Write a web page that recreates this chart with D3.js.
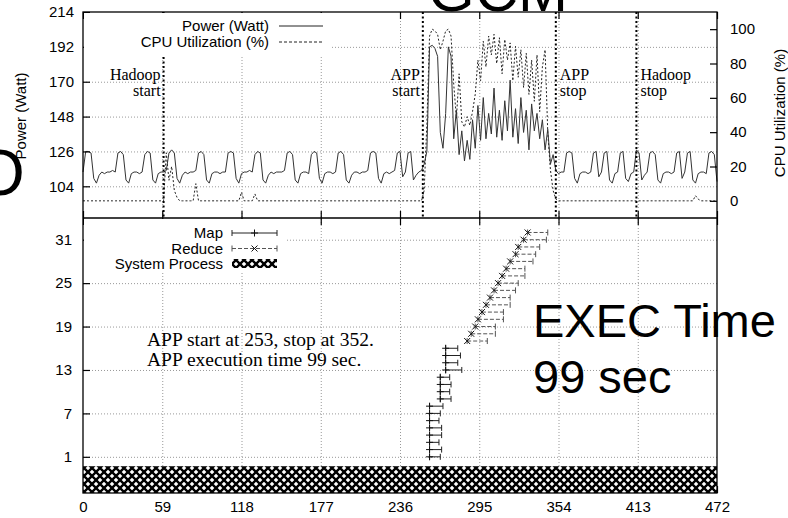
<!DOCTYPE html>
<html>
<head>
<meta charset="utf-8">
<script src="https://cdn.jsdelivr.net/npm/d3@7"></script>
<style>
  body { margin: 0; background: #fff; }
  svg { display: block; }
  .tick text { font-family: "Liberation Sans", Arial, sans-serif; font-size: 15px; fill: #000; }
  .grid line { stroke: #999; stroke-width: 1; stroke-dasharray: 1,2; }
</style>
</head>
<body>
<div id="chart"></div>
<script>
// samples every 2 seconds, t = 0 .. 472
const sampleStep = 2

const powerWatt = [
  113,126,126,125,109,106,111,113,112,113,113,114,113,
  125,126,124,108,106,112,113,113,112,113,
  124,126,125,108,106,112,113,113,114,
  125,127,125,109,106,111,113,112,113,113,114,
  125,126,124,108,106,112,113,113,112,113,113,
  125,126,125,109,106,112,113,113,114,113,
  124,126,125,108,106,111,113,112,113,113,113,114,
  125,126,124,108,106,112,113,113,112,
  124,126,125,109,106,112,113,113,112,113,
  125,126,124,108,106,111,113,113,112,113,113,114,
  125,126,125,109,106,112,113,112,113,114,
  125,126,110,113,125,126,108,111,113,114,
  118,126,192,193,191,186,138,128,150,192,
  186,134,152,124,139,120,133,121,146,128,
  155,133,160,134,150,137,166,135,152,133,
  158,139,171,135,153,131,160,138,152,127,
  156,139,150,134,146,127,140,118,124,114,
  112,113,113,125,126,125,109,106,112,113,113,112,113,
  125,126,110,113,125,126,108,106,112,113,
  125,126,109,107,112,113,127,125,108,111,
  113,125,126,124,108,106,112,113,113,112,
  113,125,126,109,113,125,126,108,106,112,
  113,113,112,125,126,124,107
]

const cpuPct = [
  0,0,0,0,0,0,0,0,0,0,
  0,0,0,0,0,0,0,0,0,0,
  0,0,0,0,0,0,0,0,0,0,
  0,28,12,20,6,2,0,0,0,0,
  0,0,10,0,0,0,0,0,0,0,
  0,0,0,0,0,0,0,0,0,5,
  0,0,0,0,4,0,0,0,0,0,
  0,0,0,0,0,0,0,0,0,0,
  0,0,0,0,0,0,0,0,0,0,
  0,0,0,0,0,0,0,0,0,0,
  0,0,0,0,0,0,0,0,0,0,
  0,0,0,0,0,0,0,0,0,0,
  0,0,0,0,0,0,0,6,45,96,
  100,99,97,88,93,99,100,96,68,48,
  74,46,43,49,44,52,62,82,70,93,
  78,96,85,97,80,95,74,94,82,92,
  70,90,72,88,66,86,62,82,58,85,
  52,78,88,40,18,6,1,0,0,0,
  0,0,0,0,0,0,0,0,0,0,
  0,0,0,0,0,0,0,0,0,0,
  0,0,0,0,0,0,0,0,0,0,
  0,0,0,0,0,0,0,0,0,0,
  0,0,0,0,0,0,0,0,3,1,
  0,0,0,0,0,0,0
]

const eventTimes = [60, 253, 352, 412]
const eventLabels = [['Hadoop', 'start'], ['APP', 'start'], ['APP', 'stop'], ['Hadoop', 'stop']]

// map tasks are rows 1..16, reduce tasks rows 17..32 (seconds)
const mapStart = [258,258,258,258,258,258,258,258,266,266,266,266,270,270,270,270]
const mapEnd = [266,267,265,267,267,265,266,268,274,273,274,273,282,279,281,279]
const reduceStart = [286,289,292,294,297,300,303,306,309,312,315,318,322,324,328,331]
const reduceEnd = [301,307,307,313,313,318,318,322,324,329,329,335,337,340,345,346]
const systemProcess = [[0, 472]]

const xTicks = [0, 59, 118, 177, 236, 295, 354, 413, 472]
const powerTicks = [104, 126, 148, 170, 192, 214]
const cpuTicks = [0, 20, 40, 60, 80, 100]
const taskTicks = [1, 7, 13, 19, 25, 31]

const width = 788
const height = 518
const sans = '"Liberation Sans", Arial, sans-serif'
const serif = '"Liberation Serif", "Times New Roman", serif'

const svg = d3.select('#chart').append('svg')
  .attr('width', width)
  .attr('height', height)

const x = d3.scaleLinear().domain([0, 472]).range([83, 717])
const yP = d3.scaleLinear().domain([84, 214]).range([218, 12])
const yC = d3.scaleLinear().domain([-10, 110]).range([218, 12])
const yT = d3.scaleLinear().domain([-4, 34]).range([493, 218])

// crosshatch for system process
const defs = svg.append('defs')
const pat = defs.append('pattern')
  .attr('id', 'hatch')
  .attr('patternUnits', 'userSpaceOnUse')
  .attr('width', 8).attr('height', 8)
pat.append('rect').attr('width', 8).attr('height', 8).attr('fill', '#fff')
pat.append('path')
  .attr('d', 'M-1,-1L9,9M9,-1L-1,9')
  .attr('stroke', '#000').attr('stroke-width', 2.4)

// grid
svg.append('g').attr('class', 'grid')
  .attr('transform', 'translate(0,493)')
  .call(d3.axisBottom(x).tickValues(xTicks.slice(1, -1)).tickSize(-481).tickFormat(''))
svg.append('g').attr('class', 'grid')
  .attr('transform', 'translate(83,0)')
  .call(d3.axisLeft(yP).tickValues(powerTicks.slice(0, -1)).tickSize(-634).tickFormat(''))
svg.append('g').attr('class', 'grid')
  .attr('transform', 'translate(83,0)')
  .call(d3.axisLeft(yT).tickValues(taskTicks).tickSize(-634).tickFormat(''))
svg.selectAll('.grid .domain').remove()

// top panel series
const t = i => i * sampleStep
svg.append('path')
  .datum(cpuPct)
  .attr('fill', 'none')
  .attr('stroke', '#222')
  .attr('stroke-width', 1)
  .attr('stroke-dasharray', '2,2')
  .attr('d', d3.line().x((d, i) => x(t(i))).y(d => yC(d)))

svg.append('path')
  .datum(powerWatt)
  .attr('fill', 'none')
  .attr('stroke', '#333')
  .attr('stroke-width', 1)
  .attr('d', d3.line().x((d, i) => x(t(i))).y(d => yP(d)))

// event markers
svg.selectAll('.event')
  .data(eventTimes)
  .enter().append('line')
  .attr('class', 'event')
  .attr('x1', d => x(d)).attr('x2', d => x(d))
  .attr('y1', 12).attr('y2', 218)
  .attr('stroke', '#000')
  .attr('stroke-width', 2)
  .attr('stroke-dasharray', '2,2.5')

eventLabels.forEach((lab, i) => {
  const left = i < 2
  const tx = svg.append('text')
    .attr('x', left ? x(eventTimes[i]) - 3 : x(eventTimes[i]) + 4)
    .attr('y', 80)
    .attr('text-anchor', left ? 'end' : 'start')
    .style('font-family', serif)
    .style('font-size', '16px')
  tx.append('tspan').text(lab[0])
  tx.append('tspan').attr('x', left ? x(eventTimes[i]) - 3 : x(eventTimes[i]) + 4).attr('dy', 15.5).text(lab[1])
})

// bottom panel tasks
function errBar (g, s, e, row, dashed, marker) {
  const yy = yT(row)
  g.append('line')
    .attr('x1', x(s)).attr('x2', x(e)).attr('y1', yy).attr('y2', yy)
    .attr('stroke', dashed ? '#555' : '#222')
    .attr('stroke-dasharray', dashed ? '4,2' : null)
  ;[s, e].forEach(v => {
    g.append('line')
      .attr('x1', x(v)).attr('x2', x(v)).attr('y1', yy - 3).attr('y2', yy + 3)
      .attr('stroke', dashed ? '#555' : '#222')
  })
  const cx = x(s)
  const p = marker === 'plus'
    ? `M${cx - 3.5},${yy}h7M${cx},${yy - 3.5}v7`
    : `M${cx - 3},${yy - 3}l6,6M${cx - 3},${yy + 3}l6,-6`
  g.append('path').attr('d', p).attr('stroke', '#111').attr('stroke-width', 1)
}

const tasks = svg.append('g')
mapStart.forEach((s, i) => errBar(tasks, s, mapEnd[i], i + 1, false, 'plus'))
reduceStart.forEach((s, i) => errBar(tasks, s, reduceEnd[i], i + 1 + mapStart.length, true, 'cross'))

// axes with inward ticks
function clean (g) {
  g.select('.domain').remove()
  g.selectAll('.tick line').attr('stroke', '#000').attr('stroke-width', 1.2)
}
svg.append('g').attr('transform', 'translate(83,0)')
  .call(d3.axisLeft(yP).tickValues(powerTicks).tickSizeInner(-7).tickSizeOuter(0).tickPadding(9))
  .call(clean)
svg.append('g').attr('transform', 'translate(717,0)')
  .call(d3.axisRight(yC).tickValues(cpuTicks).tickSizeInner(-7).tickSizeOuter(0).tickPadding(13))
  .call(clean)
svg.append('g').attr('transform', 'translate(83,0)')
  .call(d3.axisLeft(yT).tickValues(taskTicks).tickSizeInner(-7).tickSizeOuter(0).tickPadding(11))
  .call(clean)
svg.append('g').attr('transform', 'translate(0,12)')
  .call(d3.axisTop(x).tickValues(xTicks).tickSizeInner(-7).tickSizeOuter(0).tickFormat(''))
  .call(clean)
svg.append('g').attr('transform', 'translate(0,218)')
  .call(d3.axisBottom(x).tickValues(xTicks).tickSizeInner(-7).tickSizeOuter(0).tickFormat(''))
  .call(clean)
svg.append('g').attr('transform', 'translate(0,218)')
  .call(d3.axisTop(x).tickValues(xTicks).tickSizeInner(-7).tickSizeOuter(0).tickFormat(''))
  .call(clean)
svg.append('g').attr('transform', 'translate(0,493)')
  .call(d3.axisBottom(x).tickValues(xTicks).tickSizeInner(-7).tickSizeOuter(0).tickPadding(8))
  .call(clean)

// system process band
svg.selectAll('.sys')
  .data(systemProcess)
  .enter().append('rect')
  .attr('class', 'sys')
  .attr('x', d => x(d[0]))
  .attr('width', d => x(d[1]) - x(d[0]))
  .attr('y', yT(-0.3))
  .attr('height', yT(-4) - yT(-0.3))
  .attr('fill', 'url(#hatch)')

// legends
svg.append('rect').attr('x', 84).attr('y', 13).attr('width', 248).attr('height', 43).attr('fill', '#fff')
svg.append('rect').attr('x', 84).attr('y', 219).attr('width', 203).attr('height', 53).attr('fill', '#fff')

const legTop = [
  { label: 'Power (Watt)', dash: null, y: 26 },
  { label: 'CPU Utilization (%)', dash: '3,2', y: 42 }
]
legTop.forEach(l => {
  svg.append('text').attr('x', 269).attr('y', l.y + 5).attr('text-anchor', 'end')
    .style('font-family', sans).style('font-size', '15px').text(l.label)
  svg.append('line').attr('x1', 279).attr('x2', 323).attr('y1', l.y).attr('y2', l.y)
    .attr('stroke', '#222').attr('stroke-dasharray', l.dash)
})

const legBot = svg.append('g')
;['Map', 'Reduce', 'System Process'].forEach((lab, i) => {
  legBot.append('text').attr('x', 223).attr('y', 238 + i * 15.5).attr('text-anchor', 'end')
    .style('font-family', sans).style('font-size', '15px').text(lab)
})
function legErr (yy, dashed, marker) {
  const c = dashed ? '#555' : '#222'
  legBot.append('line').attr('x1', 232).attr('x2', 277).attr('y1', yy).attr('y2', yy)
    .attr('stroke', c).attr('stroke-dasharray', dashed ? '4,2' : null)
  ;[232, 277].forEach(v => legBot.append('line').attr('x1', v).attr('x2', v)
    .attr('y1', yy - 3).attr('y2', yy + 3).attr('stroke', c))
  const cx = 254.5
  const p = marker === 'plus'
    ? `M${cx - 3.5},${yy}h7M${cx},${yy - 3.5}v7`
    : `M${cx - 3},${yy - 3}l6,6M${cx - 3},${yy + 3}l6,-6`
  legBot.append('path').attr('d', p).attr('stroke', '#111')
}
legErr(233, false, 'plus')
legErr(248.5, true, 'cross')
legBot.append('rect').attr('x', 232).attr('y', 259).attr('width', 45).attr('height', 9)
  .attr('fill', 'url(#hatch)')

// frame
svg.append('rect').attr('x', 83).attr('y', 12).attr('width', 634).attr('height', 481)
  .attr('fill', 'none').attr('stroke', '#000').attr('stroke-width', 1.3)
svg.append('line').attr('x1', 83).attr('x2', 717).attr('y1', 218).attr('y2', 218)
  .attr('stroke', '#000').attr('stroke-width', 1.3)

// axis titles
svg.append('text').attr('transform', 'translate(26,116) rotate(-90)')
  .attr('text-anchor', 'middle').style('font-family', sans).style('font-size', '15px')
  .text('Power (Watt)')
svg.append('text').attr('transform', 'translate(785,113) rotate(-90)')
  .attr('text-anchor', 'middle').style('font-family', sans).style('font-size', '15px')
  .text('CPU Utilization (%)')

// annotation
const ann = svg.append('text').attr('x', 147).attr('y', 346)
  .style('font-family', serif).style('font-size', '19.5px')
ann.append('tspan').text('APP start at 253, stop at 352.')
ann.append('tspan').attr('x', 147).attr('dy', 19.7).text('APP execution time 99 sec.')

// slide overlay text
const big = svg.append('text').attr('x', 533).attr('y', 337)
  .style('font-family', sans).style('font-size', '47px')
big.append('tspan').text('EXEC Time')
big.append('tspan').attr('x', 533).attr('y', 393).text('99 sec')

svg.append('text').attr('x', -25).attr('y', 195)
  .style('font-family', sans).style('font-size', '64px').text('O')
svg.append('text').attr('x', 428).attr('y', 11)
  .style('font-family', sans).style('font-size', '60px').text('GCM')
</script>
</body>
</html>
